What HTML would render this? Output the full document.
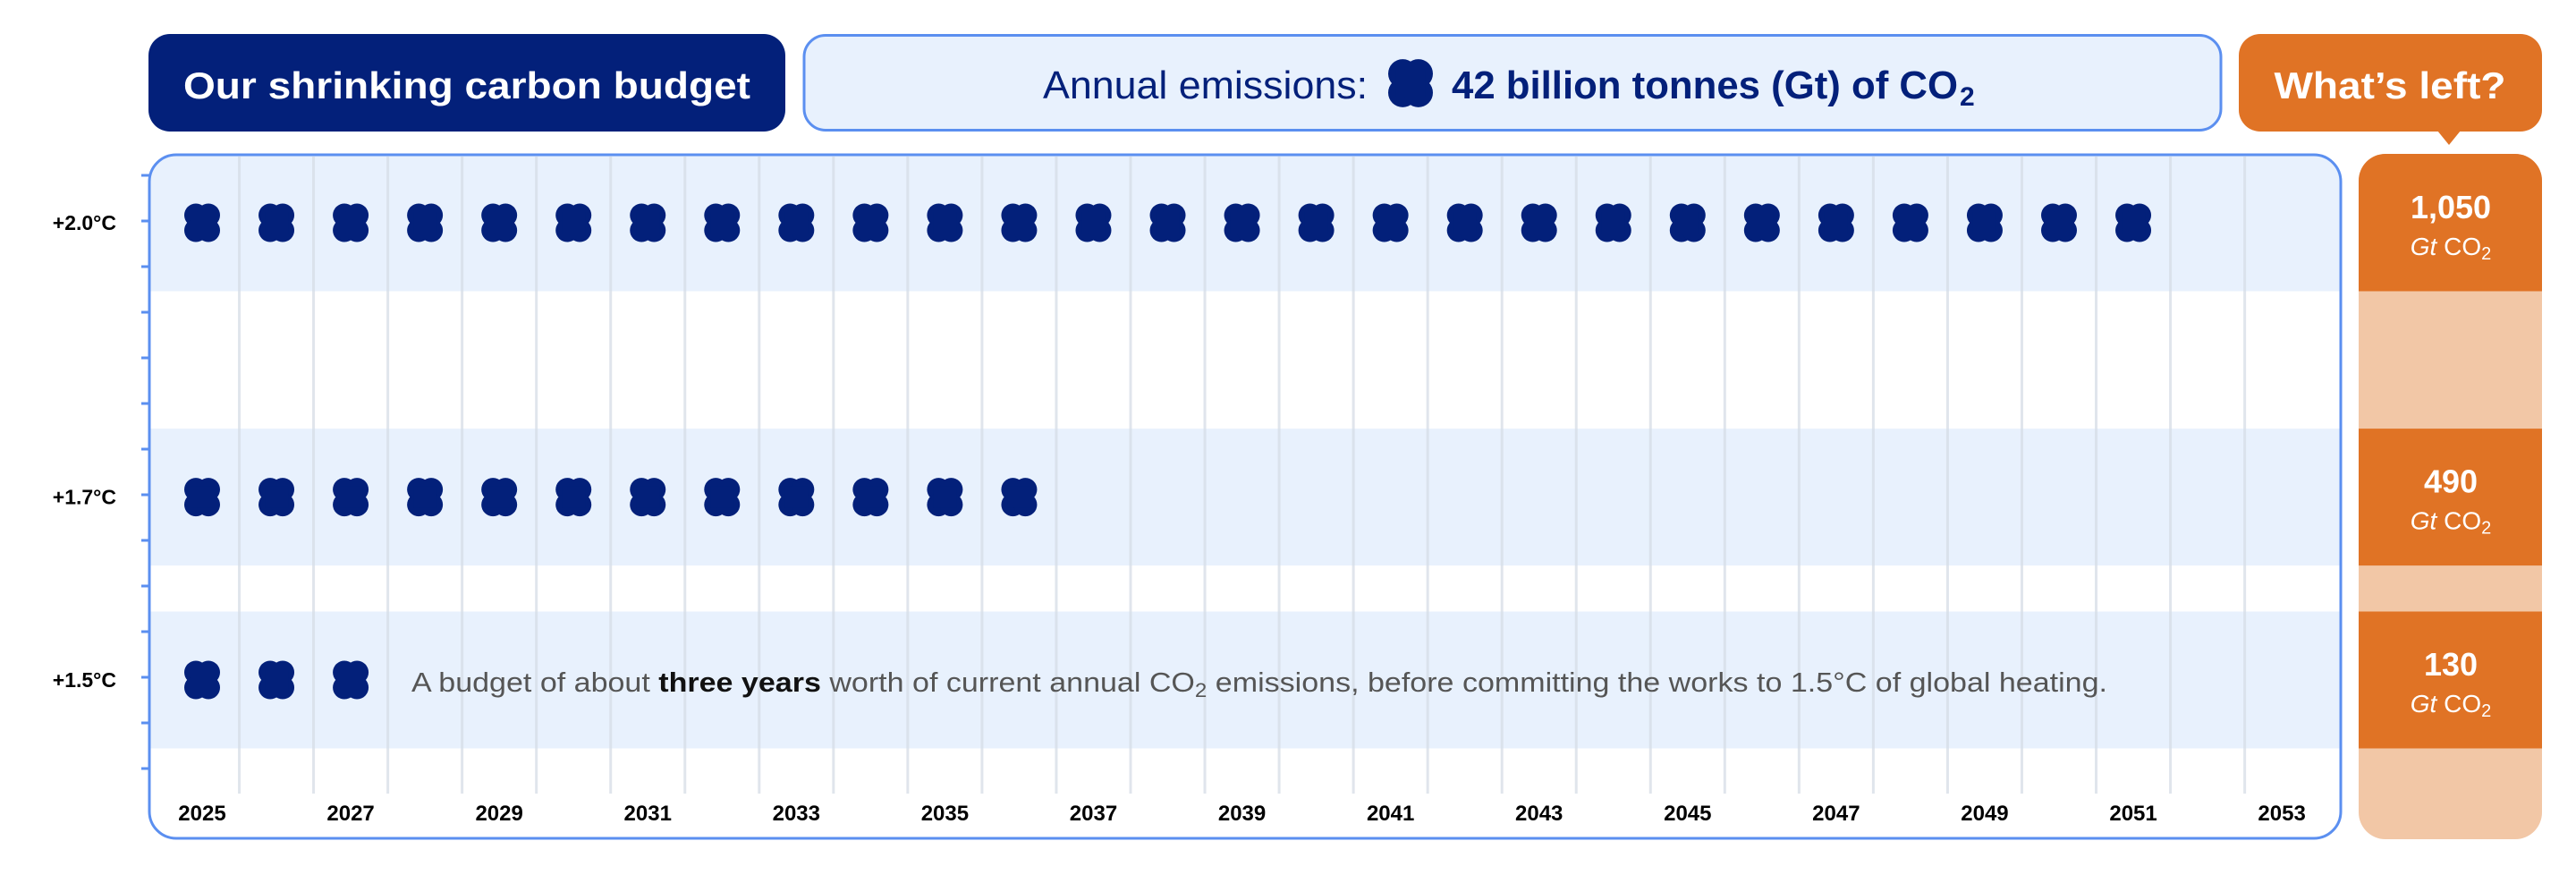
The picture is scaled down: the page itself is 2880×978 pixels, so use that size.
<!DOCTYPE html>
<html><head><meta charset="utf-8"><style>
html,body{margin:0;padding:0;background:#fff;}
svg{display:block;font-family:"Liberation Sans",sans-serif;}
</style></head><body>
<svg id="chart" width="2880" height="978" viewBox="0 0 2880 978" xmlns="http://www.w3.org/2000/svg">
<defs>
<g id="blob"><circle cx="-7" cy="-8.5" r="13"/><circle cx="7" cy="-8.5" r="13"/><circle cx="-7" cy="8.5" r="13"/><circle cx="7" cy="8.5" r="13"/><rect x="-13" y="-12" width="26" height="24"/></g>
</defs>
<g>
<rect x="166" y="38" width="712" height="109" rx="24" fill="#03207a"/>
<text x="205" y="110" font-size="42" font-weight="bold" fill="#fff" textLength="634" lengthAdjust="spacingAndGlyphs">Our shrinking carbon budget</text>
</g>
<g>
<rect x="899" y="39.5" width="1584" height="106" rx="24" fill="#e8f1fd" stroke="#5b8ff0" stroke-width="3"/>
<text x="1166" y="110" font-size="44" fill="#03207a" textLength="363" lengthAdjust="spacingAndGlyphs">Annual emissions:</text>
<g fill="#03207a" transform="translate(1577,93) scale(1.25)"><use href="#blob"/></g>
<text x="1623" y="110" font-size="44" font-weight="bold" fill="#03207a" textLength="566" lengthAdjust="spacingAndGlyphs">42 billion tonnes (Gt) of CO</text>
<text x="2191" y="118" font-size="30" font-weight="bold" fill="#03207a">2</text>
</g>
<g>
<rect x="2503" y="38" width="339" height="109" rx="24" fill="#e07325"/>
<polygon points="2725,146 2751,146 2738,162" fill="#e07325"/>
<text x="2672" y="110" font-size="42" font-weight="bold" fill="#fff" text-anchor="middle" textLength="259" lengthAdjust="spacingAndGlyphs">What’s left?</text>
</g>
<clipPath id="panelClip"><rect x="167" y="173" width="2450" height="764" rx="30"/></clipPath>
<rect x="167" y="173" width="2450" height="764" rx="30" fill="#fff"/>
<g id="bands" clip-path="url(#panelClip)"></g>
<g id="grid"></g>
<g id="marks"></g>
<rect x="167" y="173" width="2450" height="764" rx="30" fill="none" stroke="#5b8ff0" stroke-width="3"/>
<g id="yaxis"></g>
<g id="xaxis"></g>
<text id="annot" x="460" y="773" font-size="31" fill="#555" textLength="1896" lengthAdjust="spacingAndGlyphs">A budget of about <tspan font-weight="bold" fill="#111">three years</tspan> worth of current annual CO<tspan font-size="22" dy="6">2</tspan><tspan dy="-6"> emissions, before committing the works to 1.5°C of global heating.</tspan></text>
<g id="rightcol"></g>
</svg>
<script>
const rowLabels = ["+2.0°C", "+1.7°C", "+1.5°C"];
const budgets = ["1,050", "490", "130"];
const dotCounts = [27, 12, 3];
const firstYear = 2025;
const lastYear = 2053;
const yearTicks = [2025,2027,2029,2031,2033,2035,2037,2039,2041,2043,2045,2047,2049,2051,2053];
const tempValues = [2.0, 1.7, 1.5];

const NS = "http://www.w3.org/2000/svg";
function mk(tag, attrs, parent){const e=document.createElementNS(NS,tag);for(const k in attrs)e.setAttribute(k,attrs[k]);parent.appendChild(e);return e;}
const xStart=226, xStep=83.04;
function xYear(y){return xStart+(y-firstYear)*xStep;}
function yTemp(t){return 760+(t-1.5)*(249-760)/(2.0-1.5);}
const bandHalf=76.5;

const bands=document.getElementById('bands');
const grid=document.getElementById('grid');
const marks=document.getElementById('marks');
const yaxis=document.getElementById('yaxis');
const xaxis=document.getElementById('xaxis');
const right=document.getElementById('rightcol');

tempValues.forEach((t,i)=>{
  const yc=yTemp(t);
  const b=mk('rect',{x:167,y:yc-bandHalf,width:2450,height:bandHalf*2,fill:'#e8f1fd'},bands);
  
  
});
for(let y=firstYear;y<lastYear;y++){
  const gx=xYear(y)+xStep/2;
  const l=mk('line',{x1:gx,x2:gx,y1:175,y2:887,stroke:'#d6dce5','stroke-opacity':'0.75','stroke-width':3},grid);
  
  
}
tempValues.forEach((t,i)=>{
  const yc=yTemp(t);
  for(let k=0;k<dotCounts[i];k++){
    const u=mk('use',{href:'#blob',transform:`translate(${xYear(firstYear+k)},${yc})`,fill:'#03207a'},marks);
    
    
  }
  const tl=mk('text',{x:130,y:yc+8,'font-size':23,'font-weight':'bold','text-anchor':'end',fill:'#000'},yaxis);
  tl.textContent=rowLabels[i];
  
  
});
for(let k=0;k<14;k++){
  const ty=196+51*k;
  const tk=mk('line',{x1:158,x2:167,y1:ty,y2:ty,stroke:'#5b8ff0','stroke-width':3},yaxis);
  
  
}
yearTicks.forEach(y=>{
  const t=mk('text',{x:xYear(y),y:917,'font-size':24,'font-weight':'bold','text-anchor':'middle',fill:'#000'},xaxis);
  t.textContent=y;
  
  
});
const clip=mk('clipPath',{id:'rc'},right);
mk('rect',{x:2637,y:172,width:205,height:766,rx:30},clip);
const rg=mk('g',{'clip-path':'url(#rc)'},right);
const bg=mk('rect',{x:2637,y:172,width:205,height:766,fill:'#f2c7a6'},rg);


tempValues.forEach((t,i)=>{
  const yc=yTemp(t);
  const top=i===0?172:yc-bandHalf;
  const r=mk('rect',{x:2637,y:top,width:205,height:yc+bandHalf-top,fill:'#e07325'},rg);
  
  
  const n=mk('text',{x:2740,y:yc-5,'font-size':36,'text-anchor':'middle',fill:'#fff','font-weight':'bold'},right);
  n.textContent=budgets[i];
  
  
  const u=mk('text',{x:2740,y:yc+36,'font-size':28,'text-anchor':'middle',fill:'#fff'},right);
  u.innerHTML='<tspan font-style="italic">Gt</tspan> CO<tspan font-size="20" dy="5">2</tspan>';
  
  
});
</script>
</body></html>
